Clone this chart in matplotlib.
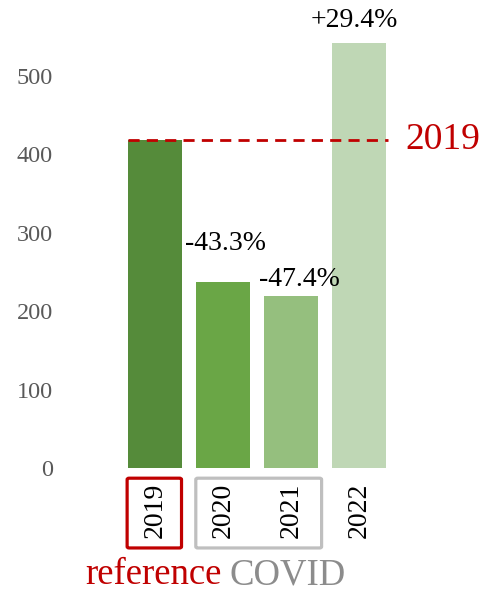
import numpy as np
import matplotlib.pyplot as plt
from matplotlib.patches import FancyBboxPatch

plt.rcParams['font.family'] = ['Liberation Serif', 'DejaVu Serif']

years = ['2019', '2020', '2021', '2022']
values = [419, 237, 220, 542]
changes = ['', '-43.3%', '-47.4%', '+29.4%']
colors = ['#558B3A', '#6AA646', '#95BF7E', '#BFD7B5']
ref_value = values[0]

fig = plt.figure(figsize=(4.85, 5.93), dpi=100)
# axes placed so that bar centres land where the reference has them
ax = fig.add_axes([114.2 / 485, (593 - 468) / 593, 285.6 / 485, 439 / 593])
x = np.arange(len(years))
ax.bar(x, values, width=0.8, color=colors)
ax.set_xlim(-0.6, 3.6)
ax.set_ylim(0, 560)

for s in ax.spines.values():
    s.set_visible(False)
ax.set_xticks([])
ax.set_yticks([0, 100, 200, 300, 400, 500])
ax.tick_params(axis='y', length=0, pad=44, labelsize=17.5, labelcolor='#595959')

# reference line
ax.hlines(ref_value, -0.4, 3.42, colors='#C00000', linestyles=(0, (4, 2.6)), lw=2.0)
ax.text(3.68, ref_value, '2019', color='#C00000', fontsize=27, va='center', ha='left')

# percent change labels
offs = [(0, 0), (0.03, 50), (0.13, 20), (-0.07, 29)]
for i in range(1, len(years)):
    ax.text(x[i] + offs[i][0], values[i] + offs[i][1], changes[i], fontsize=20,
            ha='center', va='center', clip_on=False)

# year labels
for i, y in enumerate(years):
    ax.text(x[i], -19, y, rotation=90, fontsize=20, ha='center', va='top', clip_on=False)

# boxes
b1 = FancyBboxPatch((-0.41, -102), 0.8, 89, boxstyle='round,pad=0,rounding_size=0.03',
                    fill=False, ec='#C00000', lw=2.3, clip_on=False, mutation_aspect=60)
b2 = FancyBboxPatch((0.6, -102), 1.85, 89, boxstyle='round,pad=0,rounding_size=0.03',
                    fill=False, ec='#BFBFBF', lw=2.3, clip_on=False, mutation_aspect=60)
ax.add_patch(b1)
ax.add_patch(b2)

fig.text(85 / 485, 1 - 575 / 593, 'reference', color='#C00000', fontsize=26.5, va='center', ha='left')
fig.text(230 / 485, 1 - 575 / 593, 'COVID', color='#8C8C8C', fontsize=26.5, va='center', ha='left')

fig.savefig('out.png', dpi=100)
